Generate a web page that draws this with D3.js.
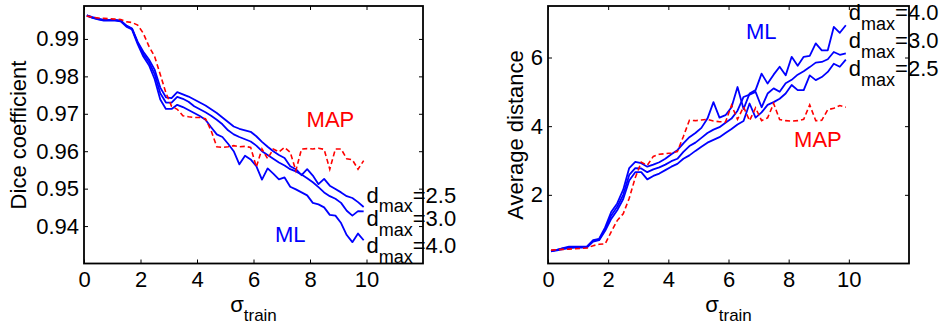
<!DOCTYPE html>
<html>
<head>
<meta charset="utf-8">
<script src="https://cdn.jsdelivr.net/npm/d3@7"></script>
<style>
  body { margin: 0; background: #fff; }
  svg { display: block; }
  text { font-family: "Liberation Sans", Arial, sans-serif; fill: #000; }
</style>
</head>
<body>
<svg width="942" height="327"></svg>
<script>
// sigma_train sample points (shared by both panels)
const sigma = [0.1, 0.3, 0.5, 0.7, 0.9, 1.1, 1.3, 1.5, 1.7, 1.9,
  2.1, 2.3, 2.5, 2.7, 2.9, 3.1, 3.3, 3.5, 3.7, 3.9,
  4.1, 4.3, 4.5, 4.7, 4.9, 5.1, 5.3, 5.5, 5.7, 5.9,
  6.1, 6.3, 6.5, 6.7, 6.9, 7.1, 7.3, 7.5, 7.7, 7.9,
  8.1, 8.3, 8.5, 8.7, 8.9, 9.1, 9.3, 9.5, 9.7, 9.9];

const xTicks = [0, 2, 4, 6, 8, 10];
const diceTicks = [0.94, 0.95, 0.96, 0.97, 0.98, 0.99];
const distTicks = [2, 4, 6];
const dmaxLabels = ['2.5', '3.0', '4.0'];

// Dice coefficient, ML for d_max = 2.5 / 3.0 / 4.0 and MAP
const diceML25 = [0.9963, 0.9958, 0.9954, 0.9951, 0.9951, 0.9951, 0.9949, 0.9936, 0.9928, 0.9892,
  0.9866, 0.9845, 0.9818, 0.9770, 0.9744, 0.9742, 0.9758, 0.9752, 0.9746, 0.9738,
  0.9730, 0.9722, 0.9712, 0.9702, 0.9690, 0.9678, 0.9666, 0.9660, 0.9656, 0.9652,
  0.9640, 0.9625, 0.9612, 0.9600, 0.9590, 0.9582, 0.9560, 0.9552, 0.9536, 0.9552,
  0.9535, 0.9512, 0.9526, 0.9508, 0.9499, 0.9490, 0.9480, 0.9475, 0.9464, 0.9451];
const diceML30 = [0.9963, 0.9957, 0.9953, 0.9950, 0.9950, 0.9950, 0.9948, 0.9935, 0.9927, 0.9890,
  0.9860, 0.9838, 0.9806, 0.9755, 0.9730, 0.9730, 0.9745, 0.9740, 0.9732, 0.9720,
  0.9712, 0.9704, 0.9695, 0.9684, 0.9672, 0.9656, 0.9645, 0.9638, 0.9632, 0.9626,
  0.9615, 0.9600, 0.9590, 0.9580, 0.9570, 0.9562, 0.9552, 0.9546, 0.9538, 0.9528,
  0.9517, 0.9504, 0.9490, 0.9480, 0.9473, 0.9462, 0.9441, 0.9428, 0.9440, 0.9439];
const diceML40 = [0.9962, 0.9956, 0.9952, 0.9949, 0.9949, 0.9949, 0.9947, 0.9933, 0.9925, 0.9886,
  0.9853, 0.9830, 0.9793, 0.9738, 0.9713, 0.9713, 0.9724, 0.9718, 0.9710, 0.9702,
  0.9694, 0.9684, 0.9664, 0.9645, 0.9638, 0.9620, 0.9600, 0.9565, 0.9588, 0.9578,
  0.9560, 0.9524, 0.9554, 0.9540, 0.9525, 0.9530, 0.9505, 0.9498, 0.9490, 0.9482,
  0.9462, 0.9458, 0.9450, 0.9430, 0.9428, 0.9408, 0.9376, 0.9357, 0.9380, 0.9362];
const diceMAP = [0.9961, 0.9958, 0.9956, 0.9955, 0.9954, 0.9953, 0.9952, 0.9946, 0.9944, 0.9937,
  0.9915, 0.9880, 0.9853, 0.9805, 0.9756, 0.9720, 0.9712, 0.9695, 0.9692, 0.9690,
  0.9690, 0.9687, 0.9655, 0.9612, 0.9610, 0.9612, 0.9615, 0.9612, 0.9613, 0.9610,
  0.9558, 0.9606, 0.9580, 0.9606, 0.9598, 0.9610, 0.9597, 0.9548, 0.9606, 0.9607,
  0.9606, 0.9608, 0.9605, 0.9552, 0.9606, 0.9606, 0.9580, 0.9577, 0.9552, 0.9575];

// Average distance, ML for d_max = 2.5 / 3.0 / 4.0 and MAP
const distML25 = [0.35, 0.38, 0.42, 0.45, 0.46, 0.46, 0.47, 0.64, 0.68, 0.95,
  1.30, 1.55, 1.88, 2.42, 2.66, 2.66, 2.45, 2.55, 2.62, 2.72,
  2.82, 2.90, 3.05, 3.15, 3.28, 3.40, 3.52, 3.60, 3.68, 3.80,
  3.92, 4.05, 4.15, 4.66, 4.25, 4.40, 4.62, 4.70, 4.80, 4.95,
  5.20, 5.05, 5.05, 5.48, 5.34, 5.43, 5.58, 5.82, 5.73, 5.94];
const distML30 = [0.37, 0.40, 0.44, 0.47, 0.48, 0.48, 0.49, 0.66, 0.70, 1.00,
  1.40, 1.65, 2.00, 2.58, 2.78, 2.77, 2.66, 2.74, 2.80, 2.88,
  2.98, 3.05, 3.25, 3.42, 3.52, 3.66, 3.80, 3.90, 3.97, 4.10,
  4.22, 4.45, 4.85, 4.92, 5.00, 4.55, 4.95, 5.10, 5.00, 5.25,
  5.35, 5.50, 5.60, 5.72, 5.85, 5.87, 5.95, 6.16, 6.08, 6.12];
const distML40 = [0.37, 0.40, 0.45, 0.49, 0.49, 0.49, 0.50, 0.68, 0.72, 1.05,
  1.50, 1.75, 2.15, 2.78, 2.96, 2.92, 2.82, 2.88, 2.95, 3.05,
  3.18, 3.30, 3.50, 3.68, 3.80, 3.95, 4.22, 4.70, 4.25, 4.32,
  4.55, 5.14, 4.50, 4.95, 5.05, 5.53, 5.24, 5.50, 5.73, 5.48,
  6.02, 5.76, 6.02, 6.05, 6.41, 6.21, 6.21, 6.89, 6.72, 6.94];
const distMAP = [0.39, 0.40, 0.41, 0.42, 0.43, 0.44, 0.45, 0.52, 0.56, 0.57,
  0.92, 1.25, 1.45, 1.90, 2.50, 2.95, 2.86, 3.12, 3.18, 3.20,
  3.22, 3.26, 3.70, 4.17, 4.16, 4.18, 4.20, 4.15, 4.13, 4.12,
  4.61, 4.20, 4.56, 4.16, 4.53, 4.16, 4.24, 4.66, 4.19, 4.16,
  4.15, 4.16, 4.20, 4.62, 4.16, 4.17, 4.48, 4.52, 4.60, 4.55];

const svg = d3.select('svg');
const yTop = 6, yBottom = 263.5;

function drawPanel(p) {
  let x = d3.scaleLinear().domain([0, 12]).range(p.xr);
  let y = d3.scaleLinear().domain(p.yd).range([yBottom, yTop]);
  let g = svg.append('g');

  // inward ticks on all four sides, labels only bottom/left
  let bx = g.append('g').attr('transform', `translate(0,${yBottom})`)
    .call(d3.axisBottom(x).tickValues(xTicks).tickSize(-4).tickSizeOuter(0).tickPadding(8));
  let tx = g.append('g').attr('transform', `translate(0,${yTop})`)
    .call(d3.axisTop(x).tickValues(xTicks).tickSize(-4).tickSizeOuter(0).tickFormat(() => ''));
  let ly = g.append('g').attr('transform', `translate(${p.xr[0]},0)`)
    .call(d3.axisLeft(y).tickValues(p.yt).tickSize(-4).tickSizeOuter(0).tickPadding(5).tickFormat(p.fmt));
  let ry = g.append('g').attr('transform', `translate(${p.xr[1]},0)`)
    .call(d3.axisRight(y).tickValues(p.yt).tickSize(-4).tickSizeOuter(0).tickFormat(() => ''));

  [bx, tx, ly, ry].forEach(a => {
    a.select('.domain').remove();
    a.selectAll('line').attr('stroke', '#000').attr('stroke-width', 1);
    a.selectAll('text').attr('font-size', 22).attr('fill', '#000')
      .attr('font-family', '"Liberation Sans", Arial, sans-serif');
  });

  let line = d3.line().x((d, i) => x(sigma[i])).y(d => y(d));

  p.ml.forEach(s => {
    g.append('path').attr('d', line(s)).attr('fill', 'none')
      .attr('stroke', '#0000ff').attr('stroke-width', 1.8).attr('stroke-linejoin', 'round');
  });
  g.append('path').attr('d', line(p.map)).attr('fill', 'none')
    .attr('stroke', '#ff0000').attr('stroke-width', 1.6).attr('stroke-dasharray', '5,3');

  g.append('rect').attr('x', p.xr[0]).attr('y', yTop)
    .attr('width', p.xr[1] - p.xr[0]).attr('height', yBottom - yTop)
    .attr('fill', 'none').attr('stroke', '#000').attr('stroke-width', 1.8);

  // axis titles
  g.append('text').attr('transform', `translate(${p.ylabX},135) rotate(-90)`)
    .attr('text-anchor', 'middle').attr('font-size', 22).text(p.ylab);
  let xl = g.append('text').attr('x', (p.xr[0] + p.xr[1]) / 2).attr('y', 312)
    .attr('text-anchor', 'middle').attr('font-size', 22);
  xl.append('tspan').text('σ');
  xl.append('tspan').attr('dy', 9).attr('font-size', 17).text('train');

  // ML / MAP tags
  g.append('text').attr('x', x(p.mlPos[0])).attr('y', y(p.mlPos[1]))
    .attr('font-size', 22).style('fill', '#0000ff').text('ML');
  g.append('text').attr('x', x(p.mapPos[0])).attr('y', y(p.mapPos[1]))
    .attr('font-size', 22).style('fill', '#ff0000').text('MAP');

  // d_max labels
  dmaxLabels.forEach((lab, i) => {
    let t = g.append('text').attr('x', x(10)).attr('y', y(p.dmaxY[i])).attr('font-size', 22);
    t.append('tspan').text('d');
    t.append('tspan').attr('dy', 9.5).attr('font-size', 18).text('max');
    t.append('tspan').attr('dy', -9.5).text('=' + lab);
  });
}

drawPanel({
  xr: [84, 423], yd: [0.93, 0.9988], yt: diceTicks, fmt: d3.format('.2f'),
  ml: [diceML25, diceML30, diceML40], map: diceMAP,
  ylab: 'Dice coefficient', ylabX: 26,
  mlPos: [6.76, 0.9358], mapPos: [7.88, 0.9666],
  dmaxY: [0.9462, 0.9400, 0.9328]
});

drawPanel({
  xr: [548, 909], yd: [0, 7.5], yt: distTicks, fmt: d3.format('d'),
  ml: [distML25, distML30, distML40], map: distMAP,
  ylab: 'Average distance', ylabX: 523,
  mlPos: [6.58, 6.53], mapPos: [8.18, 3.40],
  dmaxY: [5.45, 6.27, 7.09]
});
</script>
</body>
</html>
